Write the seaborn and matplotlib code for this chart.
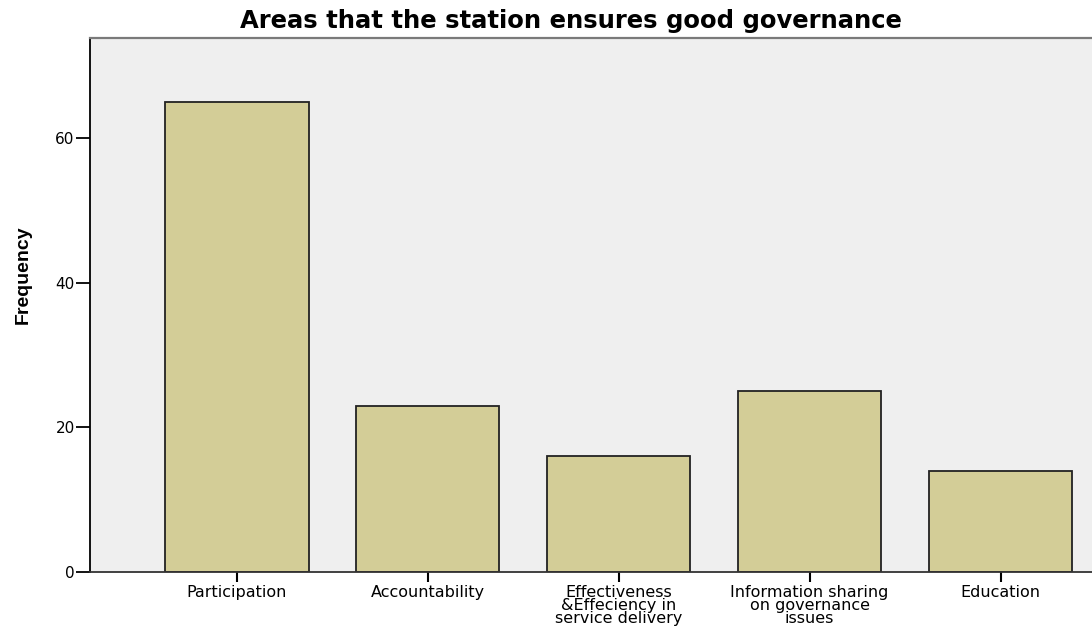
import pandas as pd
import matplotlib.pyplot as plt
import seaborn as sns

# data
areas = ['Participation', 'Accountability',
         'Effectiveness\n&Effeciency in\nservice delivery',
         'Information sharing\non governance\nissues', 'Education']
frequency = [65, 23, 16, 25, 14]

df = pd.DataFrame({'area': areas, 'freq': frequency})

sns.set_style('white')
plt.rcParams['font.family'] = ['DejaVu Sans']
plt.rcParams['text.color'] = 'black'
plt.rcParams['xtick.color'] = 'black'
plt.rcParams['ytick.color'] = 'black'
plt.rcParams['axes.labelcolor'] = 'black'

fig = plt.figure(figsize=(10.92, 6.3), dpi=100)
ax = fig.add_axes([0.0824, 0.092, 0.93, 0.8477])
ax.set_facecolor('#efefef')

sns.barplot(data=df, x='area', y='freq', color='#d3cd97', saturation=1,
            width=0.75, edgecolor='#222222', linewidth=1.3, ax=ax)

ax.set_xlim(-0.77, 4.55)
ax.set_ylim(0, 73.8)
ax.set_yticks([0, 20, 40, 60])
ax.tick_params(axis='y', length=10, width=1.3, labelsize=11, pad=1, left=True)
ax.tick_params(axis='x', length=7, width=1.5, labelsize=11.5, pad=2, bottom=True)
for lab in ax.get_xticklabels():
    lab.set_linespacing(0.85)

ax.spines['right'].set_visible(False)
ax.spines['top'].set_linewidth(1.6)
ax.spines['top'].set_color('#7a7a7a')
ax.spines['left'].set_linewidth(1.3)
ax.spines['left'].set_color('black')
ax.spines['bottom'].set_linewidth(1.3)
ax.spines['bottom'].set_color('#333333')

ax.set_xlabel('')
ax.set_ylabel('Frequency', fontsize=14, fontweight='bold',
              family='Liberation Sans')
ax.yaxis.set_label_coords(-0.057, 0.556)
fig.text(0.5225, 0.967, 'Areas that the station ensures good governance',
         fontsize=17.5, fontweight='bold', ha='center', va='center')

plt.savefig('out.png', dpi=100)
